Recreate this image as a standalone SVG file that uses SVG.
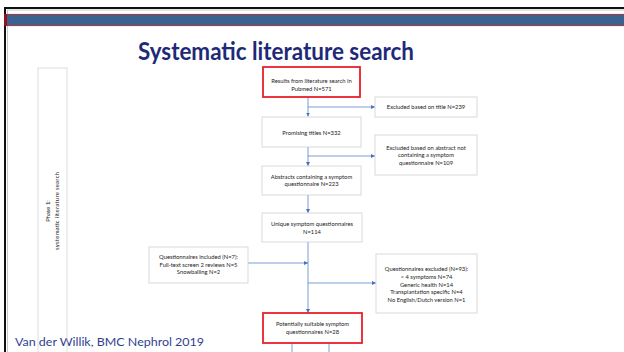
<svg xmlns="http://www.w3.org/2000/svg" width="624" height="352" viewBox="0 0 624 352">
<defs>
<marker id="ah" viewBox="0 0 6 6" refX="6" refY="3" markerWidth="4" markerHeight="4" orient="auto" markerUnits="userSpaceOnUse">
<path d="M0,0 L6,3 L0,6 z" fill="#4472c4"/>
</marker>
<style>
.box{fill:#fff;stroke:#cfcfcf;stroke-width:0.8}
.red{fill:#fff;stroke:#e8202a;stroke-width:1.8}
.t{font-family:Lato,"Liberation Sans",sans-serif;font-size:5.8px;fill:#222;text-anchor:middle}
.c{fill:none;stroke:#4472c4;stroke-width:0.7}
</style>
</defs>
<rect width="624" height="352" fill="#fff"/>
<!-- frame -->
<rect x="4" y="7" width="620" height="2" fill="#111"/>
<rect x="4" y="7" width="2" height="345" fill="#111"/>
<line x1="7" y1="10" x2="624" y2="10" stroke="#bbb" stroke-width="0.8"/>
<line x1="7.5" y1="10" x2="7.5" y2="352" stroke="#bbb" stroke-width="0.8"/>
<rect x="7" y="14" width="617" height="12" fill="#3a6290"/>
<line x1="7" y1="14.4" x2="624" y2="14.4" stroke="#c0323c" stroke-width="0.9"/>
<line x1="7" y1="25.6" x2="624" y2="25.6" stroke="#c0323c" stroke-width="0.9"/>
<rect x="4" y="14" width="3" height="12" fill="#9a1018"/>
<text x="276" y="59.5" font-family="Lato,'Open Sans',sans-serif" font-weight="bold" font-size="25" fill="#1e2a78" text-anchor="middle" textLength="276" lengthAdjust="spacingAndGlyphs">Systematic literature search</text>
<text x="15" y="346" font-family="Lato,'Open Sans',sans-serif" font-size="11" fill="#2f3f8f" textLength="189" lengthAdjust="spacingAndGlyphs">Van der Willik, BMC Nephrol 2019</text>

<g id="phase">
<rect x="38" y="68" width="29" height="300" fill="none" stroke="#d4d4d4" stroke-width="0.8"/>
<text class="t" transform="translate(50,211) rotate(-90)">Phase 1:</text>
<text class="t" transform="translate(59,211) rotate(-90)" textLength="78">systematic literature search</text>
</g>

<g id="connectors">
<path class="c" d="M308,97 V116.5" marker-end="url(#ah)"/>
<path class="c" d="M308,107 H375" marker-end="url(#ah)"/>
<path class="c" d="M308,147 V166" marker-end="url(#ah)"/>
<path class="c" d="M308,156 H375" marker-end="url(#ah)"/>
<path class="c" d="M308,195 V213" marker-end="url(#ah)"/>
<path class="c" d="M308,242 V313" marker-end="url(#ah)"/>
<path class="c" d="M248,263 H308" marker-end="url(#ah)"/>
<path class="c" d="M308,283 H376" marker-end="url(#ah)"/>
<path class="c" d="M292,343 V352"/>
<path class="c" d="M329,343 V352"/>
</g>

<g id="n1">
<rect class="red" x="263" y="67" width="97" height="30"/>
<text class="t" x="311.5" y="82.5">Results from literature search in</text>
<text class="t" x="311.5" y="91">Pubmed N=571</text>
</g>
<g id="n2">
<rect class="box" x="375" y="97" width="102" height="20"/>
<text class="t" x="426" y="109">Excluded based on title N=239</text>
</g>
<g id="n3">
<rect class="box" x="262" y="117" width="99" height="30"/>
<text class="t" x="311.5" y="134.5">Promising titles N=332</text>
</g>
<g id="n4">
<rect class="box" x="375" y="135" width="102" height="40"/>
<text class="t" x="426" y="149.5">Excluded based on abstract not</text>
<text class="t" x="426" y="157.2">containing a symptom</text>
<text class="t" x="426" y="164.9">questionnaire N=109</text>
</g>
<g id="n5">
<rect class="box" x="262" y="166" width="99" height="29"/>
<text class="t" x="311.5" y="178.5">Abstracts containing a symptom</text>
<text class="t" x="311.5" y="186.2">questionnaire N=223</text>
</g>
<g id="n6">
<rect class="box" x="262" y="213" width="100" height="29"/>
<text class="t" x="312" y="226">Unique symptom questionnaires</text>
<text class="t" x="312" y="234">N=114</text>
</g>
<g id="n7">
<rect class="box" x="149" y="247" width="99" height="36"/>
<text class="t" x="198.5" y="258.6">Questionnaires included (N=7):</text>
<text class="t" x="198.5" y="266.5">Full-text screen 2 reviews N=5</text>
<text class="t" x="198.5" y="274.2">Snowballing N=2</text>
</g>
<g id="n8">
<rect class="box" x="376" y="254" width="101" height="59"/>
<text class="t" x="426.5" y="271.3">Questionnaires excluded (N=93):</text>
<text class="t" x="426.5" y="278.8">&lt; 4 symptoms N=74</text>
<text class="t" x="426.5" y="286.6">Generic health N=14</text>
<text class="t" x="426.5" y="294.3">Transplantation specific N=4</text>
<text class="t" x="426.5" y="302">No English/Dutch version N=1</text>
</g>
<g id="n9">
<rect class="red" x="263" y="313" width="99" height="30"/>
<text class="t" x="312.5" y="326">Potentially suitable symptom</text>
<text class="t" x="312.5" y="334">questionnaires N=28</text>
</g>
</svg>
